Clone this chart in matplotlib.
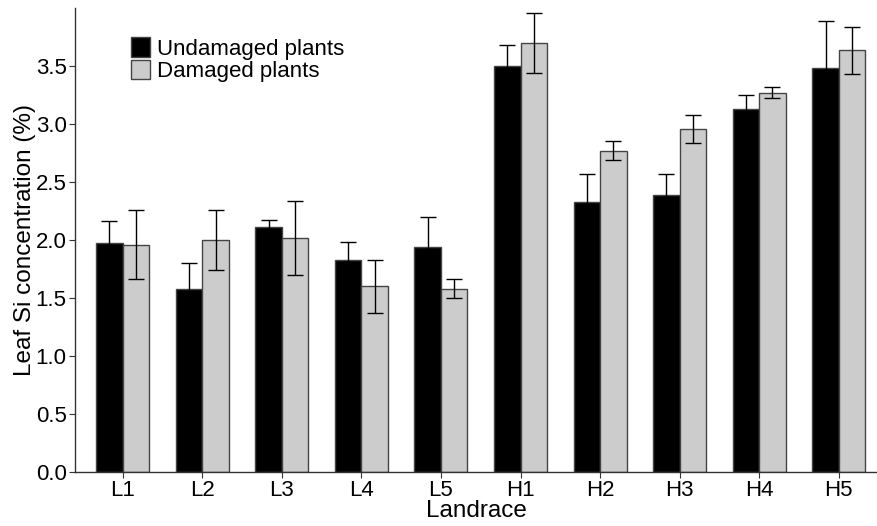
import numpy as np
import matplotlib
matplotlib.use("Agg")
import matplotlib.pyplot as plt

plt.rcParams["font.family"] = ["Liberation Sans", "DejaVu Sans"]

landraces = ["L1", "L2", "L3", "L4", "L5", "H1", "H2", "H3", "H4", "H5"]

undamaged_mean = [1.97, 1.58, 2.11, 1.83, 1.94, 3.50, 2.33, 2.39, 3.13, 3.48]
undamaged_se = [0.19, 0.22, 0.06, 0.15, 0.26, 0.18, 0.24, 0.18, 0.12, 0.41]

damaged_mean = [1.96, 2.00, 2.02, 1.60, 1.58, 3.70, 2.77, 2.96, 3.27, 3.635]
damaged_se = [0.30, 0.26, 0.32, 0.23, 0.08, 0.26, 0.08, 0.12, 0.05, 0.20]


def main():
    fig = plt.figure(figsize=(8.77, 5.26), dpi=100)
    ax = fig.add_axes([0.0855, 0.1027, 0.9145, 0.8821])

    x = np.arange(len(landraces))
    w = 0.333
    err_kw = dict(ecolor="black", elinewidth=1.0, capsize=6, capthick=1.0)

    ax.bar(x - w / 2, undamaged_mean, w, yerr=undamaged_se, color="black",
           edgecolor="#444444", linewidth=1.0, error_kw=err_kw,
           label="Undamaged plants")
    ax.bar(x + w / 2, damaged_mean, w, yerr=damaged_se, color="#cccccc",
           edgecolor="#444444", linewidth=1.0, error_kw=err_kw,
           label="Damaged plants")

    ax.set_xlim(-0.6, 9.48)
    ax.set_ylim(0, 4.0)
    ax.set_yticks(np.arange(0, 3.6, 0.5))
    ax.set_yticklabels([f"{v:.1f}" for v in np.arange(0, 3.6, 0.5)])
    ax.set_xticks(x)
    ax.set_xticklabels(landraces)

    for side in ["top", "right"]:
        ax.spines[side].set_visible(False)
    for side in ["left", "bottom"]:
        ax.spines[side].set_color("#333333")
        ax.spines[side].set_linewidth(1.0)

    ax.tick_params(axis="both", labelsize=16, length=4, color="#333333",
                   labelcolor="black", pad=2)
    ax.set_xlabel("Landrace", fontsize=17.5, labelpad=-1)
    ax.set_ylabel("Leaf Si concentration (%)", fontsize=17.5, labelpad=0)

    ax.legend(loc="upper left", bbox_to_anchor=(0.0505, 0.97), frameon=False,
              fontsize=16, handlelength=0.85, handleheight=0.95,
              handletextpad=0.3, labelspacing=0.0, borderpad=0.2)

    fig.savefig("out.png", dpi=100)
    plt.close(fig)


if __name__ == "__main__":
    main()
